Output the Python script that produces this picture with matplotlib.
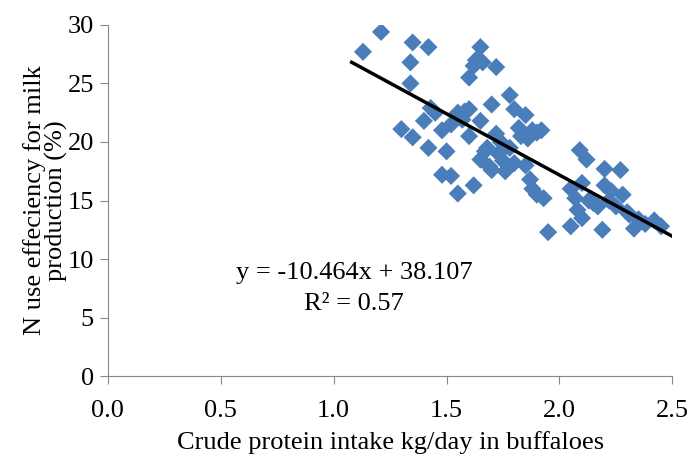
import numpy as np
import matplotlib
matplotlib.use("Agg")
import matplotlib.pyplot as plt

# crude protein intake (kg/day) and N use efficiency (%)
cp_intake = [1.13, 1.21, 1.35, 1.42, 1.34, 1.34, 1.30, 1.35, 1.40, 1.42,
             1.45, 1.48, 1.50, 1.48, 1.52, 1.55, 1.55, 1.58, 1.60, 1.60,
             1.60, 1.62, 1.63, 1.65, 1.66, 1.65, 1.62, 1.65, 1.68, 1.70,
             1.70, 1.72, 1.72, 1.75, 1.76, 1.78, 1.78, 1.80, 1.82, 1.83,
             1.85, 1.85, 1.86, 1.87, 1.88, 1.88, 1.90, 1.90, 1.93, 1.92,
             1.95, 2.05, 2.05, 2.07, 2.08, 2.09, 2.10, 2.12, 2.13, 2.15,
             2.17, 2.19, 2.20, 2.20, 2.22, 2.25, 2.27, 2.28, 2.30, 2.33,
             2.35, 2.38, 2.42, 2.45, 1.43, 1.52, 1.57, 1.67, 1.73, 1.80,
             1.69, 1.74, 2.10, 2.23, 2.31]
n_efficiency = [27.7, 29.4, 28.5, 28.1, 26.8, 25.0, 21.1, 20.4, 21.8, 19.5,
                22.5, 21.0, 19.2, 17.2, 17.1, 15.6, 22.5, 22.6, 22.8, 20.5,
                25.5, 26.5, 27.0, 28.1, 26.8, 21.8, 16.3, 18.5, 19.5, 17.6,
                23.2, 26.4, 20.7, 18.4, 17.5, 24.0, 19.5, 22.8, 21.2, 20.5,
                22.3, 18.0, 20.3, 16.8, 16.0, 21.0, 20.8, 15.5, 15.2, 21.0,
                12.3, 16.0, 12.8, 15.2, 14.2, 19.3, 13.5, 18.5, 15.0, 14.8,
                14.5, 12.5, 16.3, 17.7, 15.0, 14.5, 17.6, 15.5, 14.0, 12.6,
                13.4, 13.0, 13.3, 12.8, 22.9, 21.5, 21.9, 19.2, 19.0, 18.2,
                17.9, 20.0, 16.5, 15.8, 13.8]

slope = -10.464
intercept = 38.107
r_squared = 0.57
trend_x = [1.08, 2.5]

plt.rcParams['font.family'] = ['Liberation Serif', 'DejaVu Serif']
fs = 19

fig = plt.figure(figsize=(6.91, 4.61), dpi=100)
ax = fig.add_axes([0.156, 0.184, 0.817, 0.762])

ax.scatter(cp_intake, n_efficiency, marker='D', s=85, color='#4A7EBB',
           edgecolors='none', zorder=2)

line_x = np.array(trend_x)
ax.plot(line_x, slope * line_x + intercept, color='black', lw=2.5, zorder=3)

ax.text(1.09, 8.8, f"y = {slope}x + {intercept}", ha='center', va='center', fontsize=fs)
ax.text(1.09, 6.2, f"R² = {r_squared}", ha='center', va='center', fontsize=fs)

ax.set_xlim(0, 2.5)
ax.set_ylim(0, 30)
ax.set_xticks(np.arange(0, 2.51, 0.5))
ax.set_xticklabels([f"{v:.1f}" for v in np.arange(0, 2.51, 0.5)])
ax.set_yticks(range(0, 31, 5))

for side in ['top', 'right']:
    ax.spines[side].set_visible(False)
for side in ['left', 'bottom']:
    ax.spines[side].set_color('#888888')
ax.tick_params(direction='out', length=6, color='#888888', labelsize=fs, pad=4)
ax.tick_params(axis='x', pad=11)

ax.set_xlabel("Crude protein intake kg/day in buffaloes", fontsize=fs, labelpad=7)
ax.set_ylabel("N use effeciency for milk\nproduction (%)", fontsize=fs,
              linespacing=0.95)
ax.yaxis.set_label_coords(-0.07, 0.5)

fig.savefig("out.png", dpi=100)
